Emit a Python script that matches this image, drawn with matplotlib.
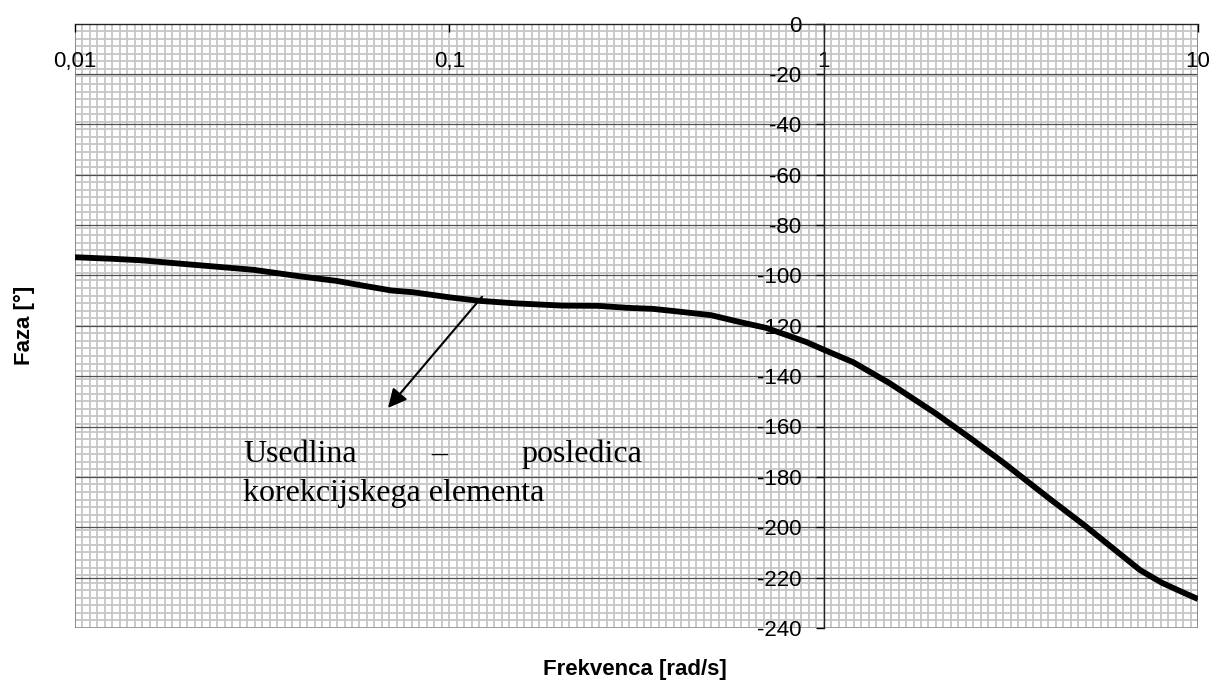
import matplotlib
matplotlib.use("Agg")
import matplotlib.pyplot as plt
import numpy as np

plt.rcParams['font.family'] = ['Liberation Sans', 'DejaVu Sans']
plt.rcParams['axes.unicode_minus'] = False

# frekvenčni odziv - faza
freq = [0.01, 0.0125, 0.015, 0.02, 0.025, 0.03, 0.04, 0.05, 0.06, 0.07, 0.08,
        0.1, 0.12, 0.15, 0.2, 0.25, 0.3, 0.35, 0.4, 0.5, 0.6, 0.7, 0.8, 0.9,
        1.0, 1.2, 1.5, 2.0, 2.5, 3.0, 4.0, 5.0, 6.0, 7.0, 8.0, 9.0, 10.0]
phase = [-92.8, -93.4, -94.0, -95.6, -96.8, -97.8, -100.4, -102.2, -104.3, -106.0, -106.7,
         -108.7, -110.1, -111.1, -112.0, -112.1, -112.9, -113.3, -114.2, -115.8, -118.6, -120.8, -123.8, -126.5,
         -129.5, -134.5, -142.8, -155.0, -165.3, -174.0, -188.5, -199.5, -209.0, -217.0, -222.0, -225.5, -228.5]

xticks = [0.01, 0.1, 1, 10]
xlabels = ['0,01', '0,1', '1', '10']
yticks = list(range(-240, 1, 20))

fig = plt.figure(figsize=(12.15, 6.84), dpi=100)
ax = fig.add_axes([75 / 1215, 1 - 628 / 684, 1123 / 1215, 604.5 / 684])
ax.set_xscale('log')
ax.set_xlim(0.01, 10)
ax.set_ylim(-240, 0)

# milimetrski papir v ozadju
nx, ny = 150, 80
ax.vlines(np.linspace(0, 1, nx + 1), 0, 1, transform=ax.transAxes,
          color='#c6c6c6', lw=1.3, zorder=0.2)
ax.hlines(np.linspace(0, 1, ny + 1), 0, 1, transform=ax.transAxes,
          color='#c6c6c6', lw=1.3, zorder=0.2)

# glavne vodoravne črte
for y in yticks[:-1]:
    ax.axhline(y, color='#505050', lw=0.9, zorder=0.5)
ax.axhline(-240, color='#9a9a9a', lw=1.2, zorder=0.6)
ax.axvline(0.01, color='#808080', lw=1.2, zorder=0.6)
ax.axvline(10, color='#808080', lw=1.2, zorder=0.6)

# os x na vrhu (y=0), os y pri 1 rad/s
ax.spines['top'].set_visible(False)
ax.spines['right'].set_visible(False)
ax.spines['bottom'].set_position(('data', 0))
ax.spines['left'].set_position(('data', 1))
for s in ('bottom', 'left'):
    ax.spines[s].set_color('#222222')
    ax.spines[s].set_linewidth(1.0)
    ax.spines[s].set_zorder(3)

ax.set_xticks(xticks, xlabels)
ax.xaxis.set_minor_locator(matplotlib.ticker.NullLocator())
ax.set_yticks(yticks)
ax.tick_params(axis='x', direction='out', length=6, width=1, pad=14,
               labelsize=16, colors='black')
ax.tick_params(axis='y', direction='out', length=6, width=1, pad=10,
               labelsize=16, colors='black')

ax.plot(freq, phase, color='black', lw=4.2, solid_capstyle='butt', zorder=4)

# opomba s puščico
ax.annotate('', xy=(0.0686, -152.6), xytext=(0.1223, -108.5),
            arrowprops=dict(arrowstyle='-|>', color='black', lw=1.5,
                            mutation_scale=28, shrinkA=0, shrinkB=0),
            zorder=5)
note_font = dict(family=['Liberation Serif', 'DejaVu Serif'], fontsize=23,
                 color='black', va='center', zorder=5)
ax.text(0.0281, -171.2, 'Usedlina', ha='left', **note_font)
ax.text(0.0939, -171.2, '–', ha='center', **note_font)
ax.text(0.3272, -171.2, 'posledica', ha='right', **note_font)
ax.text(0.0281, -186.7, 'korekcijskega elementa', ha='left', **note_font)

fig.text(24 / 1215, 1 - 325 / 684, 'Faza [°]', rotation=90, ha='center',
         va='center', fontsize=16, fontweight='bold')
fig.text(635 / 1215, 1 - 670 / 684, 'Frekvenca [rad/s]', ha='center',
         va='center', fontsize=16, fontweight='bold')

fig.savefig('out.png', dpi=100)
